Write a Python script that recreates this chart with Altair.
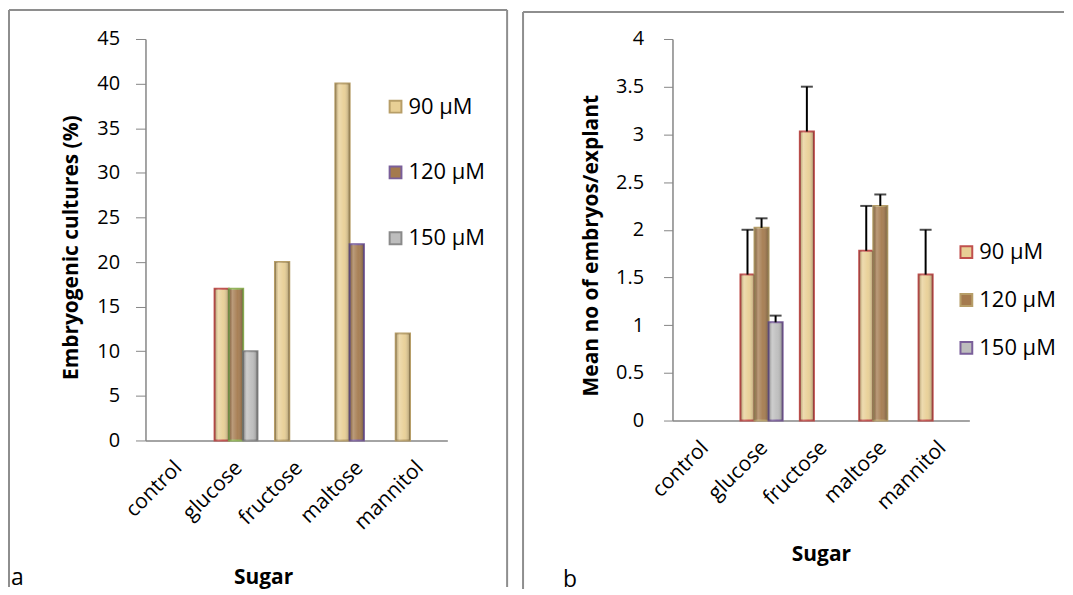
import altair as alt
import pandas as pd

categories = ["control", "glucose", "fructose", "maltose", "mannitol"]
series = ["90 µM", "120 µM", "150 µM"]

# Panel a: embryogenic cultures (%)
a_90 = [None, 17, 20, 40, 12]
a_120 = [None, 17, None, 22, None]
a_150 = [None, 10, None, None, None]

# Panel b: mean number of embryos per explant, with upper error
b_90 = [None, 1.53, 3.03, 1.78, 1.53]
b_120 = [None, 2.02, None, 2.25, None]
b_150 = [None, 1.03, None, None, None]
b_90_err = [None, 0.47, 0.47, 0.47, 0.47]
b_120_err = [None, 0.10, None, 0.12, None]
b_150_err = [None, 0.07, None, None, None]


def to_long(values, errors=None):
    rows = []
    for k, (s, vals) in enumerate(zip(series, values)):
        for i, (c, v) in enumerate(zip(categories, vals)):
            if v is None:
                continue
            row = {"sugar": c, "conc": s, "value": v}
            if errors is not None:
                row["hi"] = v + errors[k][i]
            rows.append(row)
    return pd.DataFrame(rows)


df_a = to_long([a_90, a_120, a_150])
df_b = to_long([b_90, b_120, b_150], [b_90_err, b_120_err, b_150_err])

FONT = "Open Sans"
BEIGE = "#E8CF95"
BROWN = "#A47A4E"
GREY = "#BDBDBD"
TAN = "#B79E68"
RED = "#C0504D"
GREEN = "#8FB155"
PURPLE = "#7A5F9A"
AXISGREY = "#868686"
FRAME = "#8E8E8E"

SHADE = {
    "gradient": "linear", "x1": 0, "x2": 1, "y1": 0, "y2": 0,
    "stops": [
        {"offset": 0.0, "color": "rgba(0,0,0,0.22)"},
        {"offset": 0.25, "color": "rgba(255,255,255,0.25)"},
        {"offset": 0.6, "color": "rgba(255,255,255,0.05)"},
        {"offset": 1.0, "color": "rgba(0,0,0,0.28)"},
    ],
}

one = pd.DataFrame({"k": [0]})


def frame_layers(x0, x1, y0, y1, right=True):
    layers = [
        alt.Chart(one).mark_rule(color=FRAME, strokeWidth=2).encode(
            x=alt.value(x0), x2=alt.value(x1), y=alt.value(y0)),
        alt.Chart(one).mark_rule(color=FRAME, strokeWidth=2).encode(
            x=alt.value(x0), y=alt.value(y0), y2=alt.value(y1)),
    ]
    if right:
        layers.append(alt.Chart(one).mark_rule(color=FRAME, strokeWidth=2).encode(
            x=alt.value(x1), y=alt.value(y0), y2=alt.value(y1)))
    return layers


def x_enc(title_x, title_y):
    return alt.X(
        "sugar:N",
        scale=alt.Scale(domain=categories, paddingInner=0.29, paddingOuter=0.145),
        axis=alt.Axis(
            title="Sugar", labelAngle=-45, labelAlign="right", labelBaseline="middle",
            labelPadding=24, labelOffset=3, labelFont=FONT, labelFontSize=21,
            labelColor="black", ticks=False, domainColor=AXISGREY, domainWidth=1.5,
            titleFont=FONT, titleFontSize=21, titleFontWeight="bold", titleColor="black",
            titleX=title_x, titleY=title_y, titleBaseline="middle", titleAlign="center",
        ),
    )


xoff = alt.XOffset("conc:N", scale=alt.Scale(domain=series, paddingInner=0, paddingOuter=0))


def legend(lx, ly, row_pad):
    return alt.Legend(
        orient="none", legendX=lx, legendY=ly, title=None, symbolType="square",
        symbolSize=140, symbolStrokeWidth=2, labelFont=FONT, labelFontSize=22,
        labelColor="black", rowPadding=row_pad, labelOffset=2, padding=0,
    )


def shade_layer(df, yfield):
    return alt.Chart(df).mark_bar(fill=SHADE, strokeWidth=0).encode(
        x=alt.X("sugar:N"), xOffset="conc:N", y=alt.Y(f"{yfield}:Q")
    )


# ---------------- Panel a ----------------
leg_a = legend(240, 57, 44)
bars_a = alt.Chart(df_a).mark_bar(strokeWidth=2).encode(
    x=x_enc(118, 138),
    xOffset=xoff,
    y=alt.Y(
        "value:Q",
        scale=alt.Scale(domain=[0, 45], nice=False),
        axis=alt.Axis(
            title="Embryogenic cultures (%)", values=list(range(0, 46, 5)), grid=False,
            domainColor=AXISGREY, domainWidth=1.5, tickColor=AXISGREY, tickSize=10,
            labelFont=FONT, labelFontSize=20, labelColor="black", labelPadding=16,
            titleFont=FONT, titleFontSize=21, titleFontWeight="bold", titleColor="black",
            titleX=-74, titleY=209, titleBaseline="middle", titleAlign="center",
        ),
    ),
    fill=alt.Fill("conc:N", scale=alt.Scale(domain=series, range=[BEIGE, BROWN, GREY]),
                  legend=leg_a),
    stroke=alt.Stroke(
        "conc:N",
        scale=alt.Scale(domain=series, range=[TAN, PURPLE, "#8A8A8A"]),
        legend=leg_a,
        condition=[
            {"test": "datum.sugar === 'glucose' && datum.conc === '90 µM'", "value": RED},
            {"test": "datum.sugar === 'glucose' && datum.conc === '120 µM'", "value": GREEN},
        ],
    ),
)

label_a = alt.Chart(pd.DataFrame({"t": ["a"]})).mark_text(
    font=FONT, fontSize=23, align="left", baseline="middle", color="black"
).encode(text="t:N", x=alt.value(-135), y=alt.value(541))

panel_a = alt.layer(
    *frame_layers(-137, 363, -29, 550, right=True), bars_a, shade_layer(df_a, "value"), label_a
).properties(width=303, height=403)

# ---------------- Panel b ----------------
leg_b = legend(284, 203, 26)
base_b = alt.Chart(df_b)
bars_b = base_b.mark_bar(strokeWidth=2).encode(
    x=x_enc(149, 134),
    xOffset=xoff,
    y=alt.Y(
        "value:Q",
        scale=alt.Scale(domain=[0, 4], nice=False),
        axis=alt.Axis(
            title="Mean no of embryos/explant", values=[0, 0.5, 1, 1.5, 2, 2.5, 3, 3.5, 4],
            format=".1~f", grid=False,
            domainColor=AXISGREY, domainWidth=1.5, tickColor=AXISGREY, tickSize=9,
            labelFont=FONT, labelFontSize=20, labelColor="black", labelPadding=20,
            titleFont=FONT, titleFontSize=21, titleFontWeight="bold", titleColor="black",
            titleX=-81, titleY=207, titleBaseline="middle", titleAlign="center",
        ),
    ),
    fill=alt.Fill("conc:N", scale=alt.Scale(domain=series, range=[BEIGE, BROWN, GREY]),
                  legend=leg_b),
    stroke=alt.Stroke("conc:N", scale=alt.Scale(domain=series, range=[RED, TAN, PURPLE]),
                      legend=leg_b),
)

err_b = base_b.mark_rule(color="black", strokeWidth=2).encode(
    x=alt.X("sugar:N"), xOffset="conc:N", y="value:Q", y2="hi:Q"
)
cap_b = base_b.mark_tick(color="black", size=12, thickness=2, orient="horizontal").encode(
    x=alt.X("sugar:N"), xOffset="conc:N", y="hi:Q"
)

label_b = alt.Chart(pd.DataFrame({"t": ["b"]})).mark_text(
    font=FONT, fontSize=23, align="left", baseline="middle", color="black"
).encode(text="t:N", x=alt.value(-110), y=alt.value(543))

panel_b = alt.layer(
    *frame_layers(-150, 393, -27, 552, right=False), bars_b, shade_layer(df_b, "value"),
    err_b, cap_b, label_b
).properties(width=298, height=383)

chart = alt.hconcat(panel_a, panel_b, spacing=14).resolve_scale(
    x="independent", y="independent", xOffset="independent",
    fill="independent", stroke="independent",
).resolve_legend(fill="independent", stroke="independent").properties(
    padding=0
).configure_view(stroke=None)

chart.save("out.html", embed_options={"renderer": "svg", "actions": False})
